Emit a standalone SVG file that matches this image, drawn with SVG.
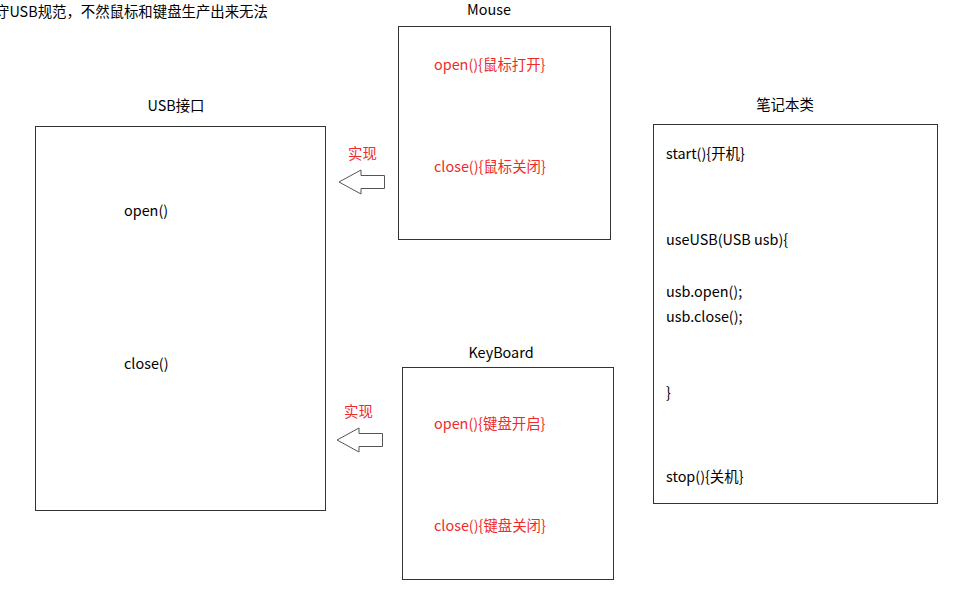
<svg xmlns="http://www.w3.org/2000/svg" width="953" height="596" viewBox="0 0 953 596">
<style>
text{font-family:"Noto Sans CJK SC","Open Sans",sans-serif;font-size:14.4px;fill:#000}
.r{fill:#f02a2a}
.box{fill:#fff;stroke:#333;stroke-width:1}
.arr{fill:#fff;stroke:#555;stroke-width:1}
</style>
<rect width="953" height="596" fill="#fff"/>
<text x="-5" y="17">守USB规范，不然鼠标和键盘生产出来无法</text>
<g id="usb">
<text x="176" y="111" text-anchor="middle">USB接口</text>
<rect class="box" x="35.5" y="126.5" width="290" height="384"/>
<text x="124" y="216">open()</text>
<text x="124" y="369">close()</text>
</g>
<g id="mouse">
<text x="489" y="15" text-anchor="middle">Mouse</text>
<rect class="box" x="398.5" y="26.5" width="212" height="213"/>
<text class="r" x="434" y="70">open(){鼠标打开}</text>
<text class="r" x="434" y="172">close(){鼠标关闭}</text>
</g>
<g id="keyboard">
<text x="501" y="358" text-anchor="middle">KeyBoard</text>
<rect class="box" x="402.5" y="367.5" width="211" height="212"/>
<text class="r" x="434" y="429">open(){键盘开启}</text>
<text class="r" x="434" y="531">close(){键盘关闭}</text>
</g>
<g id="notebook">
<text x="785" y="110" text-anchor="middle">笔记本类</text>
<rect class="box" x="653.5" y="124.5" width="284" height="379"/>
<text x="666" y="159">start(){开机}</text>
<text x="666" y="245">useUSB(USB usb){</text>
<text x="666" y="297">usb.open();</text>
<text x="666" y="322">usb.close();</text>
<text x="666" y="398">}</text>
<text x="666" y="482">stop(){关机}</text>
</g>
<g id="connectors">
<path class="arr" d="M339,182 L361,170 L361,175.5 L384.5,175.5 L384.5,188.5 L361,188.5 L361,194 Z"/>
<text class="r" x="348" y="159">实现</text>
<path class="arr" d="M337,440 L359,428 L359,433.5 L382.5,433.5 L382.5,446.5 L359,446.5 L359,452 Z"/>
<text class="r" x="344" y="417">实现</text>
</g>
</svg>
